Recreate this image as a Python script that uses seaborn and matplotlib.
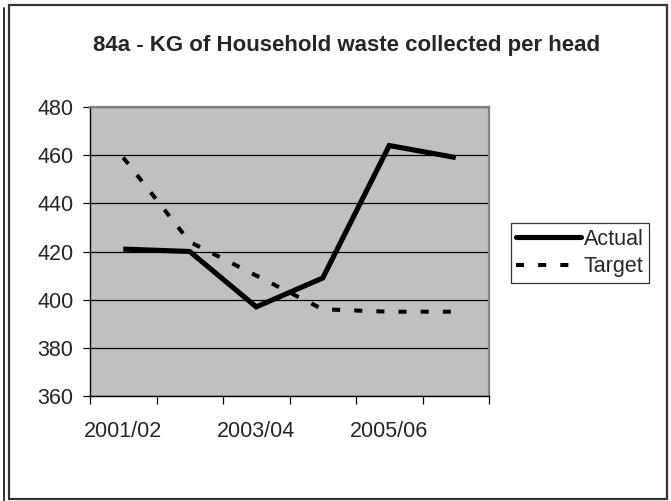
import matplotlib
matplotlib.use("Agg")
import matplotlib.pyplot as plt
import seaborn as sns
import pandas as pd
from matplotlib.lines import Line2D
from matplotlib.patches import Rectangle

years = ["2001/02", "2002/03", "2003/04", "2004/05", "2005/06", "2006/07"]
actual = [421, 420, 397, 409, 464, 459]
target = [459, 424, 410, 396, 395, 395]
y_ticks = [360, 380, 400, 420, 440, 460, 480]

sns.set_theme(style="white")
plt.rcParams["font.family"] = ["Liberation Sans", "DejaVu Sans"]

FS = 15.5

df = pd.DataFrame({
    "pos": list(range(len(years))) * 2,
    "value": actual + target,
    "series": ["Actual"] * len(years) + ["Target"] * len(years),
})

fig = plt.figure(figsize=(6.71, 5.01), dpi=100)
fig.patch.set_facecolor("white")
ax = fig.add_axes([90 / 671, 105 / 501, 399 / 671, 289 / 501])

sns.lineplot(
    data=df, x="pos", y="value", style="series", hue="series",
    palette={"Actual": "black", "Target": "black"},
    dashes={"Actual": "", "Target": (2.0, 3.5)},
    ax=ax, legend=False,
)
lines = ax.get_lines()
lines[0].set_linewidth(3.7)
lines[0].set_solid_capstyle("butt")
lines[0].set_solid_joinstyle("miter")
lines[1].set_linewidth(2.9)
lines[1].set_dash_capstyle("butt")

ax.set_facecolor("#C0C0C0")
ax.set_xlim(-0.5, len(years) - 0.5)
ax.set_ylim(360, 480)
ax.set_yticks(y_ticks)
ax.set_yticklabels([str(v) for v in y_ticks], fontsize=FS)
ax.yaxis.grid(True, color="black", linewidth=0.9)
ax.set_axisbelow(True)

# category boundary ticks, labels on every other category
ax.set_xticks([i - 0.5 for i in range(len(years) + 1)])
ax.set_xticklabels([])
ax.set_xticks([0, 2, 4], minor=True)
ax.set_xticklabels([years[0], years[2], years[4]], minor=True, fontsize=FS)
ax.tick_params(axis="x", which="major", direction="out", length=6, width=0.9,
               color="black", bottom=True)
ax.tick_params(axis="x", which="minor", length=0, pad=18)
ax.tick_params(axis="y", direction="out", length=5, width=0.9, color="black",
               left=True, pad=7)
ax.set_xlabel("")
ax.set_ylabel("")

for side in ("left", "bottom"):
    ax.spines[side].set_color("black")
    ax.spines[side].set_linewidth(1.0)
for side in ("top", "right"):
    ax.spines[side].set_color("#808080")
    ax.spines[side].set_linewidth(1.6)

fig.text(347 / 671, 1 - 45 / 501, "84a - KG of Household waste collected per head",
         ha="center", va="center", fontsize=16, fontweight="bold")

handles = [
    Line2D([], [], color="black", linewidth=3.7, solid_capstyle="round"),
    Line2D([], [], color="black", linewidth=2.9, linestyle=(0, (2.0, 3.5)),
           dash_capstyle="butt"),
]
leg = fig.legend(handles, ["Actual", "Target"], loc="center",
                 bbox_to_anchor=(580 / 671, 1 - 253 / 501),
                 bbox_transform=fig.transFigure, fontsize=FS, frameon=True,
                 fancybox=False, handlelength=3.0, handletextpad=0.15,
                 borderpad=0.25, labelspacing=0.3, borderaxespad=0)
leg.get_frame().set_edgecolor("black")
leg.get_frame().set_linewidth(0.9)
leg.get_frame().set_facecolor("white")

# chart frame
fig.patches.append(Rectangle((9 / 671, 2 / 501), 658 / 671, 494 / 501,
                             transform=fig.transFigure, fill=False,
                             edgecolor="#333333", linewidth=1.6))
fig.lines.append(Line2D([3.5 / 671, 3.5 / 671], [0, 1 - 8 / 501],
                        transform=fig.transFigure, color="#333333", linewidth=1.4))

fig.savefig("out.png", dpi=100)
